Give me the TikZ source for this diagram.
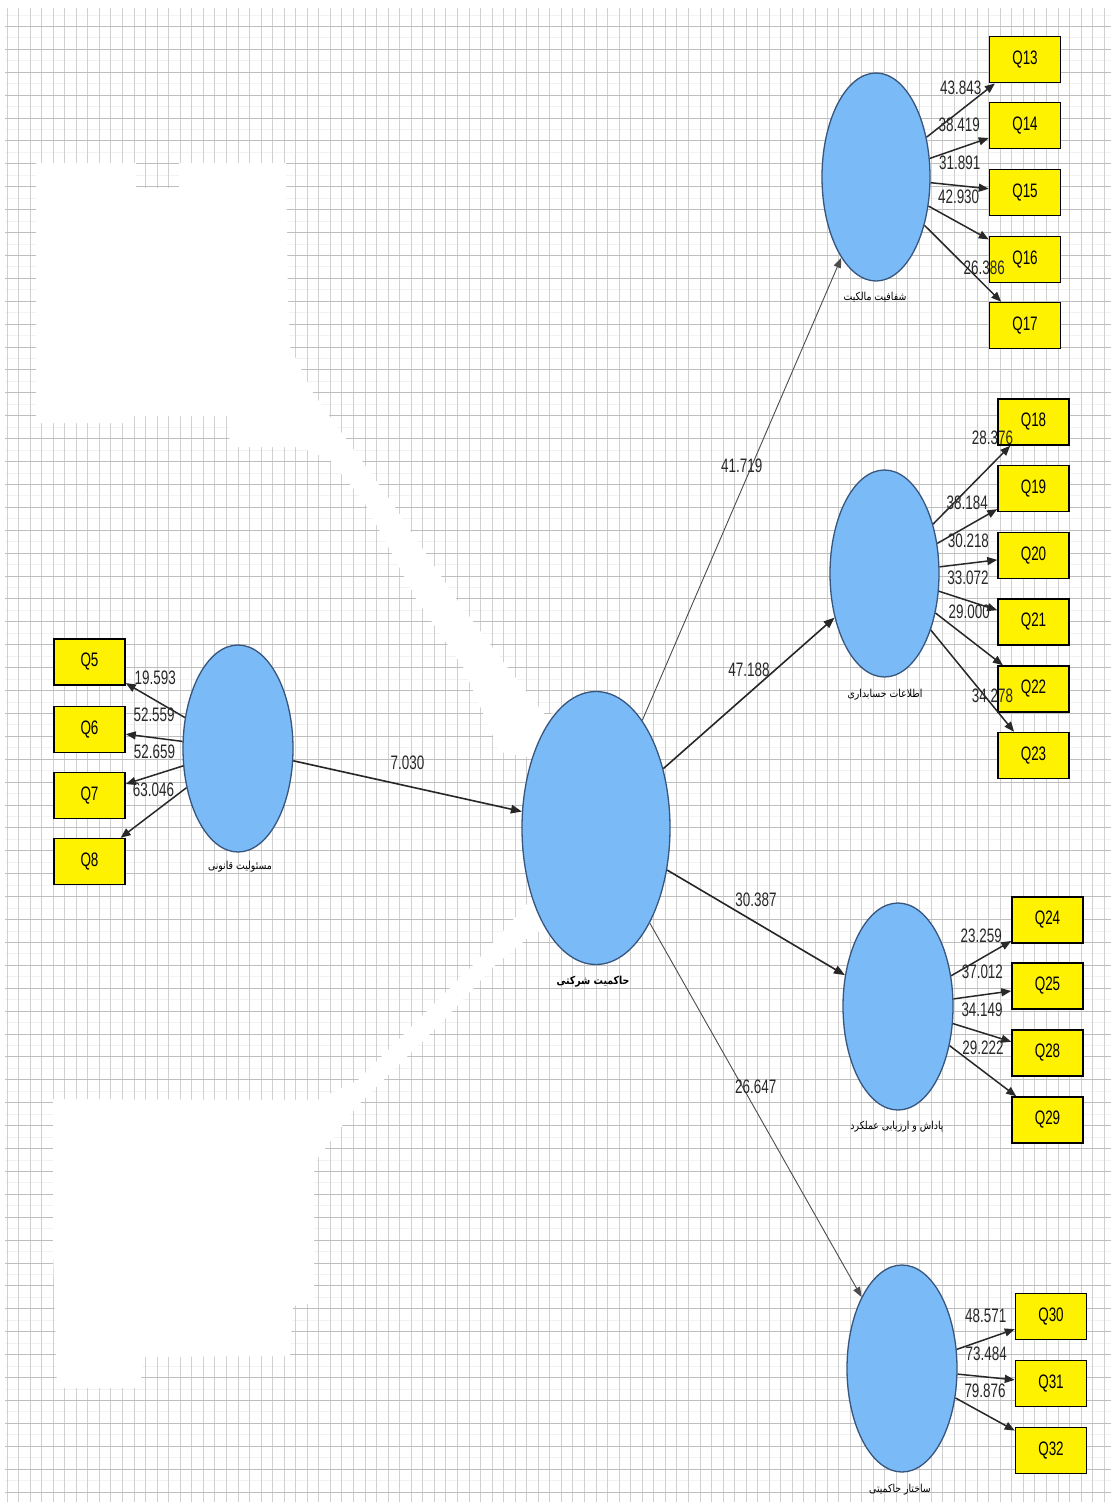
\documentclass[tikz,border=0pt]{standalone}
\usepackage{fontspec}
\setmainfont{Liberation Sans}
\newfontfamily\numfont[FakeStretch=0.69]{Liberation Sans}
\newfontfamily\fafont[Script=Arabic,FakeStretch=0.85]{DejaVu Sans}
\TeXXeTstate=1
\usetikzlibrary{shapes.geometric,arrows.meta}

\definecolor{lvfill}{RGB}{122,187,247}
\definecolor{lvline}{RGB}{55,85,125}
\definecolor{gridh}{RGB}{190,190,190}
\definecolor{gridv}{RGB}{208,208,208}
\definecolor{gridf}{RGB}{242,242,242}
\definecolor{numgray}{RGB}{40,40,40}

\begin{document}
\begin{tikzpicture}[x=1pt,y=-1pt,
  latent/.style={ellipse, draw=lvline, fill=lvfill, line width=1.3pt, inner sep=0pt},
  lvsmall/.style={latent, minimum width=110pt, minimum height=207pt},
  item/.style={rectangle, draw=black, fill=yellow, line width=1.5pt,
    minimum width=71pt, minimum height=46pt, inner sep=0pt,
    font=\numfont\fontsize{19.5}{19.5}\selectfont},
  lvname/.style={font=\fafont\fontsize{11}{12}\selectfont, text=black, inner sep=0pt},
  lbl/.style={font=\numfont\fontsize{19.5}{19.5}\selectfont, text=numgray, inner sep=0pt},
  mid/.style={lbl, midway, yshift=23pt},
  load/.style={draw=numgray, line width=1.5pt, -{Triangle[length=10pt,width=8pt]}},
  strong/.style={draw=black!85, line width=1.6pt, -{Triangle[length=11pt,width=8.5pt]}},
  weak/.style={draw=black!70, line width=0.9pt, -{Triangle[length=10pt,width=7.5pt]}}
]
\useasboundingbox (0,0) rectangle (1113,1507);
\fill[white] (0,0) rectangle (1113,1507);

% background grid (lines snapped to whole pixels)
\begin{scope}
  \clip (5,8) rectangle (1111,1502);
  \foreach \k in {0,...,64}
    \draw[gridf, line width=1pt] (5,{round(14.55+22.9*\k)+0.5}) -- ++(1106,0);
  \foreach \i in {0,...,96}
    \draw[gridv, line width=1pt] ({round(6.5+11.55*\i)+0.5},8) -- ++(0,1494);
  \foreach \k in {0,...,64}
    \draw[gridh, line width=1pt] (5,{round(26+22.9*\k)+0.5}) -- ++(1106,0);
\end{scope}

% blank areas over the grid
\fill[white] (36,163) -- (136,163) -- (136,188) -- (179,188) -- (179,163) -- (286,163)
  -- (288,300) -- (290,347) -- (313,393) -- (390,500) -- (457,600) -- (507,667)
  -- (545,715) -- (560,712) -- (545,760) -- (500,752) -- (463,667) -- (417,600)
  -- (363,500) -- (330,460) -- (300,447) -- (230,447) -- (228,416) -- (132,416)
  -- (132,423) -- (36,423) -- cycle;
\fill[white] (53,1099) -- (317,1100) -- (357,1081) -- (428,1010) -- (475,963)
  -- (528,903) -- (545,893) -- (550,935) -- (536,931) -- (493,967) -- (443,1021)
  -- (357,1106) -- (314,1163) -- (314,1303) -- (293,1306) -- (290,1356)
  -- (143,1357) -- (140,1388) -- (57,1388) -- (53,1250) -- cycle;

% latent variables
\node[latent, minimum width=148pt, minimum height=273pt] (gov) at (596,828) {};
\node[lvsmall] (resp) at (238,748.5) {};
\node[lvsmall, minimum width=108pt, minimum height=208pt] (own) at (876,177) {};
\node[lvsmall, minimum width=109pt] (acc) at (884.5,573.5) {};
\node[lvsmall] (rew) at (898,1006.5) {};
\node[lvsmall] (str) at (902,1368.5) {};

% latent variable names
\node[lvname, font=\fafont\bfseries\fontsize{11}{12}\selectfont] (govname) at (593,982) {\beginR حاکمیت شرکتی\endR};
\node[lvname] (respname) at (240,867) {\beginR مسئولیت قانونی\endR};
\node[lvname] (ownname) at (875,297) {\beginR شفافیت مالکیت\endR};
\node[lvname] (accname) at (885,695) {\beginR اطلاعات حسابداری\endR};
\node[lvname] (rewname) at (897,1127) {\beginR پاداش و ارزیابی عملکرد\endR};
\node[lvname] (strname) at (900,1490) {\beginR ساختار حاکمیتی\endR};

% indicators
\node[item] (q5) at (89.5,662) {Q5};
\node[item] (q6) at (89.5,729.5) {Q6};
\node[item] (q7) at (89.5,795.5) {Q7};
\node[item] (q8) at (89.5,861.5) {Q8};

\node[item] (q13) at (1025,59.7) {Q13};
\node[item] (q14) at (1025,125.5) {Q14};
\node[item] (q15) at (1025,192.5) {Q15};
\node[item] (q16) at (1025,259.5) {Q16};
\node[item] (q17) at (1025,325.5) {Q17};

\node[item] (q18) at (1033.5,422) {Q18};
\node[item] (q19) at (1033.5,488.5) {Q19};
\node[item] (q20) at (1033.5,555.5) {Q20};
\node[item] (q21) at (1033.5,622) {Q21};
\node[item] (q22) at (1033.5,689) {Q22};
\node[item] (q23) at (1033.5,755.5) {Q23};

\node[item] (q24) at (1047.5,920) {Q24};
\node[item] (q25) at (1047.5,986) {Q25};
\node[item] (q28) at (1047.5,1053) {Q28};
\node[item] (q29) at (1047.5,1120) {Q29};

\node[item] (q30) at (1051,1316.5) {Q30};
\node[item] (q31) at (1051,1383.5) {Q31};
\node[item] (q32) at (1051,1450.5) {Q32};

% structural paths
\draw[strong] (resp) -- (gov) node[mid] (p1) {7.030};
\draw[weak] (gov) -- (own) node[mid] (p2) {41.719};
\draw[strong] (gov) -- (acc) node[mid] (p3) {47.188};
\draw[strong] (gov) -- (rew) node[mid] (p4) {30.387};
\draw[weak] (gov) -- (str) node[mid] (p5) {26.647};

% loadings
\draw[load] (resp) -- (q5) node[mid] (l5) {19.593};
\draw[load] (resp) -- (q6) node[mid] (l6) {52.559};
\draw[load] (resp) -- (q7) node[mid] (l7) {52.659};
\draw[load] (resp) -- (q8) node[mid] (l8) {63.046};

\draw[load] (own) -- (q13) node[mid] (l13) {43.843};
\draw[load] (own) -- (q14) node[mid] (l14) {38.419};
\draw[load] (own) -- (q15) node[mid] (l15) {31.891};
\draw[load] (own) -- (q16) node[mid, yshift=3pt] (l16) {42.930};
\draw[load] (own) -- (q17) node[lbl, pos=0.78, yshift=17.5pt] (l17) {26.386};

\draw[load] (acc) -- (q18) node[lbl, pos=0.77, yshift=25.5pt] (l18) {28.376};
\draw[load] (acc) -- (q19) node[mid] (l19) {38.184};
\draw[load] (acc) -- (q20) node[mid] (l20) {30.218};
\draw[load] (acc) -- (q21) node[mid] (l21) {33.072};
\draw[load] (acc) -- (q22) node[mid, yshift=4pt] (l22) {29.000};
\draw[load] (acc) -- (q23) node[lbl, pos=0.74, yshift=9.5pt] (l23) {34.278};

\draw[load] (rew) -- (q24) node[mid] (l24) {23.259};
\draw[load] (rew) -- (q25) node[mid] (l25) {37.012};
\draw[load] (rew) -- (q28) node[mid] (l28) {34.149};
\draw[load] (rew) -- (q29) node[mid] (l29) {29.222};

\draw[load] (str) -- (q30) node[mid] (l30) {48.571};
\draw[load] (str) -- (q31) node[mid] (l31) {73.484};
\draw[load] (str) -- (q32) node[mid] (l32) {79.876};
\end{tikzpicture}
\end{document}
